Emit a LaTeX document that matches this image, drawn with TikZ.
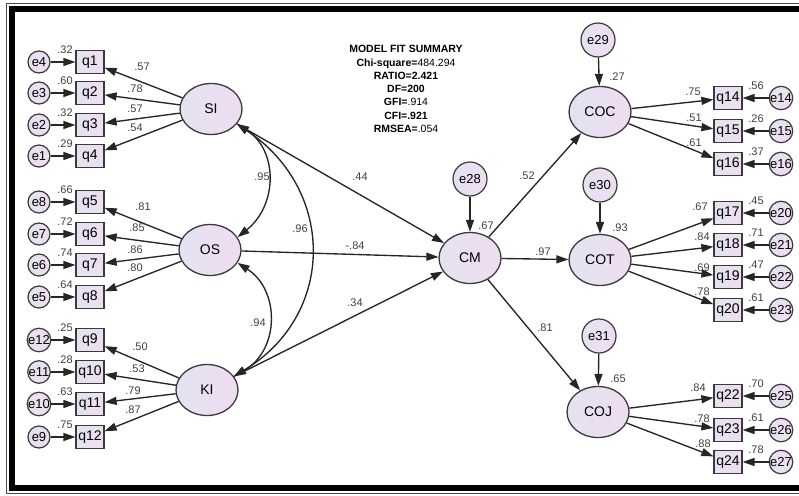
\documentclass[tikz,border=0pt]{standalone}
\usepackage{fontspec}
\setmainfont{Liberation Sans}
\usetikzlibrary{positioning,shapes.geometric,arrows.meta}

\definecolor{lavL}{HTML}{E3E3F1}
\definecolor{lavR}{HTML}{F0DCF1}
\definecolor{rim}{HTML}{3A3A3A}

\tikzset{
  latent/.style={ellipse, draw=rim, line width=1.3pt, left color=lavL, right color=lavR,
    minimum width=62pt, minimum height=51pt, inner sep=0pt, font=\fontsize{14}{16}\selectfont},
  err/.style={circle, draw=rim, line width=1.2pt, left color=lavL, right color=lavR,
    minimum size=22pt, inner sep=0pt, font=\fontsize{13}{15}\selectfont},
  errbig/.style={err, minimum size=34pt},
  indic/.style={rectangle, draw=rim, line width=1.2pt, left color=lavL, right color=lavR,
    minimum width=28pt, minimum height=23pt, inner sep=0pt, font=\fontsize{14}{16}\selectfont},
  est/.style={inner sep=0pt, text=black!75, font=\fontsize{11}{13}\selectfont},
  reg/.style={draw=black!85, line width=1.35pt, -{Triangle[length=12pt,width=8pt]}},
  cov/.style={reg, {Triangle[length=12pt,width=8pt]}-{Triangle[length=12pt,width=8pt]}},
}

\begin{document}
\begin{tikzpicture}[x=1pt, y=-1pt]
  \useasboundingbox (0,0) rectangle (799,495);
  % frame
  \draw[line width=6pt, line join=miter] (805,9) -| (12,488) -- (805,488);
  \draw[line width=0.8pt, black!70] (805,3.5) -| (6,493.5) -- (805,493.5);

  % fit summary
  \node[name=fit, align=center, inner sep=0pt, font=\bfseries\fontsize{10.5}{13.3}\selectfont] at (406,89)
    {MODEL FIT SUMMARY\\Chi-square=\textmd{484.294}\\RATIO=2.421\\DF=200\\GFI=\textmd{.914}\\CFI=.921\\RMSEA=\textmd{.054}};

  % latent variables
  \node[latent] (SI)  at (211,109) {SI};
  \node[latent] (OS)  at (210,250) {OS};
  \node[latent] (KI)  at (207,390) {KI};
  \node[latent] (CM)  at (470,258) {CM};
  \node[latent] (COC) at (600,112) {COC};
  \node[latent] (COT) at (600,260) {COT};
  \node[latent] (COJ) at (598,412) {COJ};

  % disturbances
  \node[errbig] (e28) at (470,179) {e28};
  \node[errbig] (e29) at (598,40)  {e29};
  \node[errbig] (e30) at (600,185) {e30};
  \node[errbig] (e31) at (599,336) {e31};

  % left indicators
  \foreach \f/\q/\e/\y/\v/\l/\lx/\ly in {
      SI/q1/e4/62/.32/.57/142/67, SI/q2/e3/93/.60/.78/135/89,
      SI/q3/e2/125/.32/.57/135/109, SI/q4/e1/156/.29/.54/135/128,
      OS/q5/e8/202/.66/.81/143/207, OS/q6/e7/234/.72/.85/137/228,
      OS/q7/e6/265/.74/.86/135/250, OS/q8/e5/297/.64/.80/135/268,
      KI/q9/e12/340/.25/.50/140/347, KI/q10/e11/372/.28/.53/137/369,
      KI/q11/e10/404/.63/.79/133/391, KI/q12/e9/437/.75/.87/133/410} {
    \node[indic] (\q) at (90,\y) {\q};
    \node[err] (\e) at (39,\y) {\e};
    \draw[reg] (\e) -- (\q);
    \draw[reg] (\f) -- (\q);
    \node[est] (v\q) at (65,\y-12) {\v};
    \node[est] (l\q) at (\lx,\ly) {\l};
  }

  % right indicators
  \foreach \f/\q/\e/\y/\v/\l/\lx/\ly in {
      COC/q14/e14/98/.56/.75/693/92, COC/q15/e15/131/.26/.51/694/118,
      COC/q16/e16/164/.37/.61/694/143,
      COT/q17/e20/213/.45/.67/700/207, COT/q18/e21/245/.71/.84/702/237,
      COT/q19/e22/277/.47/.69/702/268, COT/q20/e23/310/.61/.78/702/292,
      COJ/q22/e25/396/.70/.84/698/388, COJ/q23/e26/430/.61/.78/702/419,
      COJ/q24/e27/462/.78/.88/703/444} {
    \node[indic] (\q) at (728,\y) {\q};
    \node[err] (\e) at (781,\y) {\e};
    \draw[reg] (\e) -- (\q);
    \draw[reg] (\f) -- (\q);
    \node[est] (v\q) at (756,\y-12) {\v};
    \node[est] (l\q) at (\lx,\ly) {\l};
  }

  % structural paths
  \draw[reg] (SI) -- (CM);
  \draw[reg] (OS) -- (CM);
  \draw[reg] (KI) -- (CM);
  \draw[reg] (e28) -- (CM);
  \draw[reg] (CM) -- (COC);
  \draw[reg] (CM) -- (COT);
  \draw[reg] (CM) -- (COJ);
  \draw[reg] (e29) -- (COC);
  \draw[reg] (e30) -- (COT);
  \draw[reg] (e31) -- (COJ);

  % covariances
  \draw[cov] (SI.-30) .. controls (278,150) and (278,205) .. (OS.25);
  \draw[cov] (SI.-30) .. controls (336,190) and (336,315) .. (KI.27);
  \draw[cov] (OS.-25) .. controls (280,290) and (280,350) .. (KI.27);

  \node[est] (c95) at (262,177) {.95};
  \node[est] (c96) at (300,229) {.96};
  \node[est] (c94) at (258,323) {.94};
  \node[est] (b44) at (360,177) {.44};
  \node[est] (b84) at (355,246) {-.84};
  \node[est] (b34) at (355,303) {.34};
  \node[est] (r67) at (486,226) {.67};
  \node[est] (b52) at (527,176) {.52};
  \node[est] (b97) at (543,252) {.97};
  \node[est] (b81) at (545,328) {.81};
  \node[est] (r27) at (617,77)  {.27};
  \node[est] (r93) at (620,228) {.93};
  \node[est] (r65) at (618,379) {.65};
\end{tikzpicture}
\end{document}
